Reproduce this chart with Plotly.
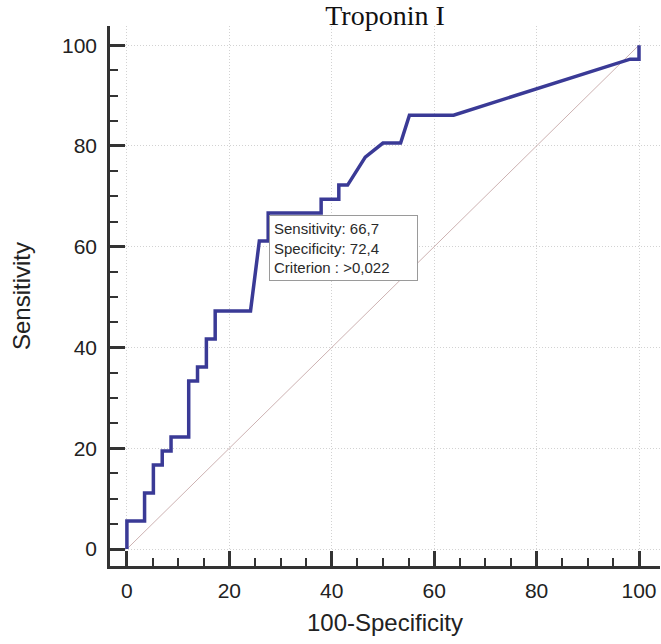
import plotly.graph_objects as go

# ROC curve points (100-Specificity, Sensitivity)
fpr = [0, 0, 3.45, 3.45, 5.17, 5.17, 6.90, 6.90, 8.62, 8.62, 12.07, 12.07,
       13.79, 13.79, 15.52, 15.52, 17.24, 17.24, 24.14, 25.86, 27.59, 27.59,
       37.93, 37.93, 41.38, 41.38, 43.10, 46.55, 50.00, 53.45, 55.17, 63.79,
       98.28, 100, 100]
tpr = [0, 5.56, 5.56, 11.11, 11.11, 16.67, 16.67, 19.44, 19.44, 22.22, 22.22, 33.33,
       33.33, 36.11, 36.11, 41.67, 41.67, 47.22, 47.22, 61.11, 61.11, 66.67,
       66.67, 69.44, 69.44, 72.22, 72.22, 77.78, 80.56, 80.56, 86.11, 86.11,
       97.22, 97.22, 100]

diag_x = [0, 100]
diag_y = [0, 100]

crit_x = 27.59
crit_y = 66.67
box_lines = ["Sensitivity: 66,7", "Specificity: 72,4", "Criterion : >0,022"]

title_text = "Troponin I"
x_title = "100-Specificity"
y_title = "Sensitivity"

fig = go.Figure()
fig.add_trace(go.Scatter(x=diag_x, y=diag_y, mode="lines",
                         line=dict(color="rgb(205,178,178)", width=1),
                         hoverinfo="skip", showlegend=False))
fig.add_trace(go.Scatter(x=fpr, y=tpr, mode="lines",
                         line=dict(color="rgb(58,58,150)", width=3.5),
                         showlegend=False))

fig.add_annotation(x=crit_x, y=crit_y, xref="x", yref="y",
                   text="<br>".join(box_lines), showarrow=False,
                   xanchor="left", yanchor="top", align="left",
                   xshift=1, yshift=-2,
                   font=dict(family="Liberation Sans, Arial", size=15, color="#2a2a2a"),
                   bgcolor="white", bordercolor="#9a9a9a", borderwidth=1,
                   borderpad=4, width=139)

axis_common = dict(
    tickmode="linear", tick0=0, dtick=20,
    ticks="inside", ticklen=15, tickwidth=2.5, tickcolor="#333",
    showline=True, linecolor="#333", linewidth=2.5,
    showgrid=True, gridcolor="#d2d2d2", gridwidth=1, griddash="1px,2px",
    zeroline=False,
    minor=dict(tick0=0, dtick=5, ticks="inside", ticklen=8, tickwidth=2,
               tickcolor="#333", showgrid=False),
    tickfont=dict(family="Liberation Sans, Arial", size=21, color="#222"),
)

fig.update_layout(
    width=661, height=644,
    margin=dict(l=110, r=1, t=26, b=78),
    paper_bgcolor="white", plot_bgcolor="white",
    title=dict(text=title_text, x=0.5, xref="paper", xanchor="center",
               y=1 - 15 / 644, yref="container", yanchor="middle",
               font=dict(family="Liberation Serif, Times New Roman", size=28, color="#111")),
    xaxis=dict(range=[-3.3, 104.1],
               title=dict(text=x_title, standoff=14,
                          font=dict(family="Liberation Sans, Arial", size=24, color="#222")),
               ticklabelstandoff=4, **axis_common),
    yaxis=dict(range=[-3.37, 103.8],
               title=dict(text=y_title, standoff=25,
                          font=dict(family="Liberation Sans, Arial", size=24, color="#222")),
               ticklabelstandoff=6, **axis_common),
)

fig.write_html("out.html")
